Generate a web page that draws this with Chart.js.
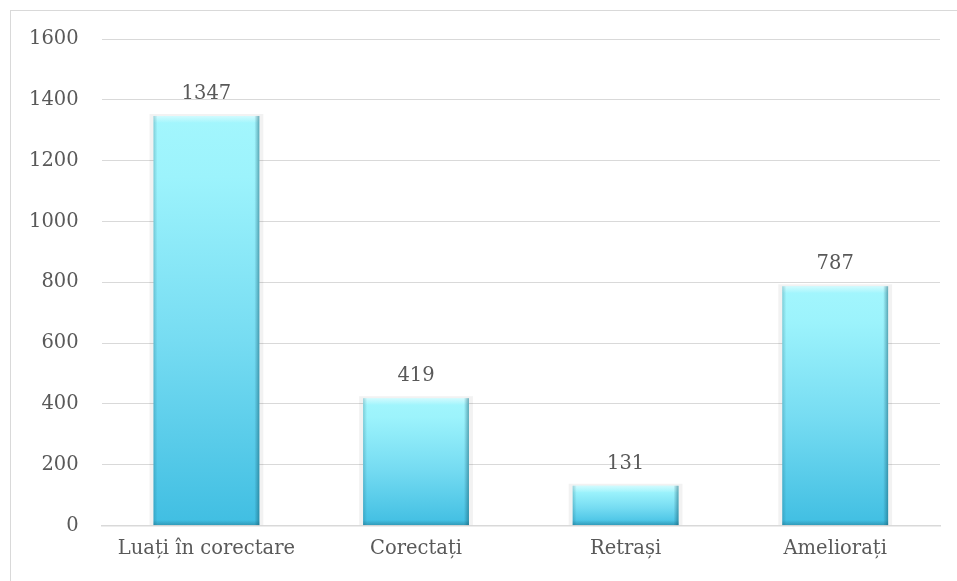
<!DOCTYPE html>
<html>
<head>
<meta charset="utf-8">
<script src="https://cdn.jsdelivr.net/npm/chart.js@4"></script>
<style>
html,body{margin:0;padding:0;background:#fff;}
#wrap{width:957px;height:581px;position:relative;}
</style>
</head>
<body>
<div id="wrap"><canvas id="c" width="957" height="581"></canvas></div>
<script>
const categories = ["Luați în corectare", "Corectați", "Retrași", "Ameliorați"];
const values = [1347, 419, 131, 787];
const yTicks = [0, 200, 400, 600, 800, 1000, 1200, 1400, 1600];

const FONT = "'DejaVu Serif', serif";
const TEXT = "#595959";

const framePlugin = {
  id: 'frame',
  beforeDraw(chart) {
    const c = chart.ctx;
    c.save();
    c.strokeStyle = '#d9d9d9';
    c.lineWidth = 1;
    c.strokeRect(10.5, 10.5, chart.width, chart.height);
    c.restore();
  }
};

const bevelPlugin = {
  id: 'bevel',
  beforeDatasetsDraw(chart) {
    const c = chart.ctx;
    const meta = chart.getDatasetMeta(0);
    c.save();
    meta.data.forEach(el => {
      const w = el.width, x0 = el.x - w / 2, top = el.y, base = el.base;
      c.fillStyle = 'rgba(0,0,0,0.05)';
      c.fillRect(x0 - 4, top - 2, w + 8, base - top + 2);
    });
    c.restore();
  },
  afterDatasetsDraw(chart) {
    const c = chart.ctx;
    const meta = chart.getDatasetMeta(0);
    c.save();
    meta.data.forEach((el, i) => {
      const w = el.width, x0 = el.x - w / 2, x1 = el.x + w / 2, top = el.y, base = el.base;
      const h = base - top;
      let g = c.createLinearGradient(0, top, 0, top + 7);
      g.addColorStop(0, 'rgba(255,255,255,0.5)');
      g.addColorStop(1, 'rgba(255,255,255,0)');
      c.fillStyle = g;
      c.fillRect(x0, top, w, Math.min(7, h));
      g = c.createLinearGradient(x1 - 5, 0, x1, 0);
      g.addColorStop(0, 'rgba(20,90,110,0)');
      g.addColorStop(1, 'rgba(20,90,110,0.5)');
      c.fillStyle = g;
      c.fillRect(x1 - 5, top, 5, h);
      g = c.createLinearGradient(x0, 0, x0 + 4, 0);
      g.addColorStop(0, 'rgba(20,90,110,0.25)');
      g.addColorStop(1, 'rgba(20,90,110,0)');
      c.fillStyle = g;
      c.fillRect(x0, top, 4, h);
      g = c.createLinearGradient(0, base - 5, 0, base);
      g.addColorStop(0, 'rgba(20,90,110,0)');
      g.addColorStop(1, 'rgba(20,90,110,0.35)');
      c.fillStyle = g;
      c.fillRect(x0, base - 5, w, 5);
      c.fillStyle = TEXT;
      c.font = "19.5px " + FONT;
      c.textAlign = 'center';
      c.textBaseline = 'alphabetic';
      c.fillText(String(values[i]), el.x, top - 17);
    });
    c.restore();
  }
};

new Chart(document.getElementById('c'), {
  type: 'bar',
  data: {
    labels: categories,
    datasets: [{
      data: values,
      barPercentage: 0.505,
      categoryPercentage: 1,
      borderWidth: 0,
      backgroundColor: (ctx) => {
        const chart = ctx.chart;
        const ys = chart.scales && chart.scales.y;
        if (!ys || ctx.raw === undefined) return '#6fd6ee';
        const top = ys.getPixelForValue(ctx.raw);
        const base = ys.getPixelForValue(0);
        if (!isFinite(top) || !isFinite(base) || top === base) return '#6fd6ee';
        const g = chart.ctx.createLinearGradient(0, top, 0, base);
        g.addColorStop(0, '#a3f6fd');
        g.addColorStop(0.15, '#9cf3fc');
        g.addColorStop(0.55, '#76dcf2');
        g.addColorStop(1, '#40bee2');
        return g;
      }
    }]
  },
  options: {
    responsive: false,
    animation: false,
    devicePixelRatio: 1,
    layout: { padding: { left: 6, right: 17, top: 39, bottom: 8 } },
    plugins: { legend: { display: false }, tooltip: { enabled: false } },
    scales: {
      x: {
        grid: { display: false, drawTicks: false },
        border: { display: true, color: '#d9d9d9', width: 1.5 },
        ticks: { color: TEXT, font: { family: FONT, size: 19.5 }, padding: 12, autoSkip: false, maxRotation: 0 }
      },
      y: {
        min: 0, max: 1600,
        afterBuildTicks(axis) { axis.ticks = yTicks.map(v => ({ value: v })); },
        grid: { color: '#d9d9d9', lineWidth: 1, drawTicks: false },
        border: { display: false },
        ticks: { color: TEXT, font: { family: FONT, size: 19.5 }, padding: 23, callback: (v) => String(v) }
      }
    }
  },
  plugins: [framePlugin, bevelPlugin]
});
</script>
</body>
</html>
